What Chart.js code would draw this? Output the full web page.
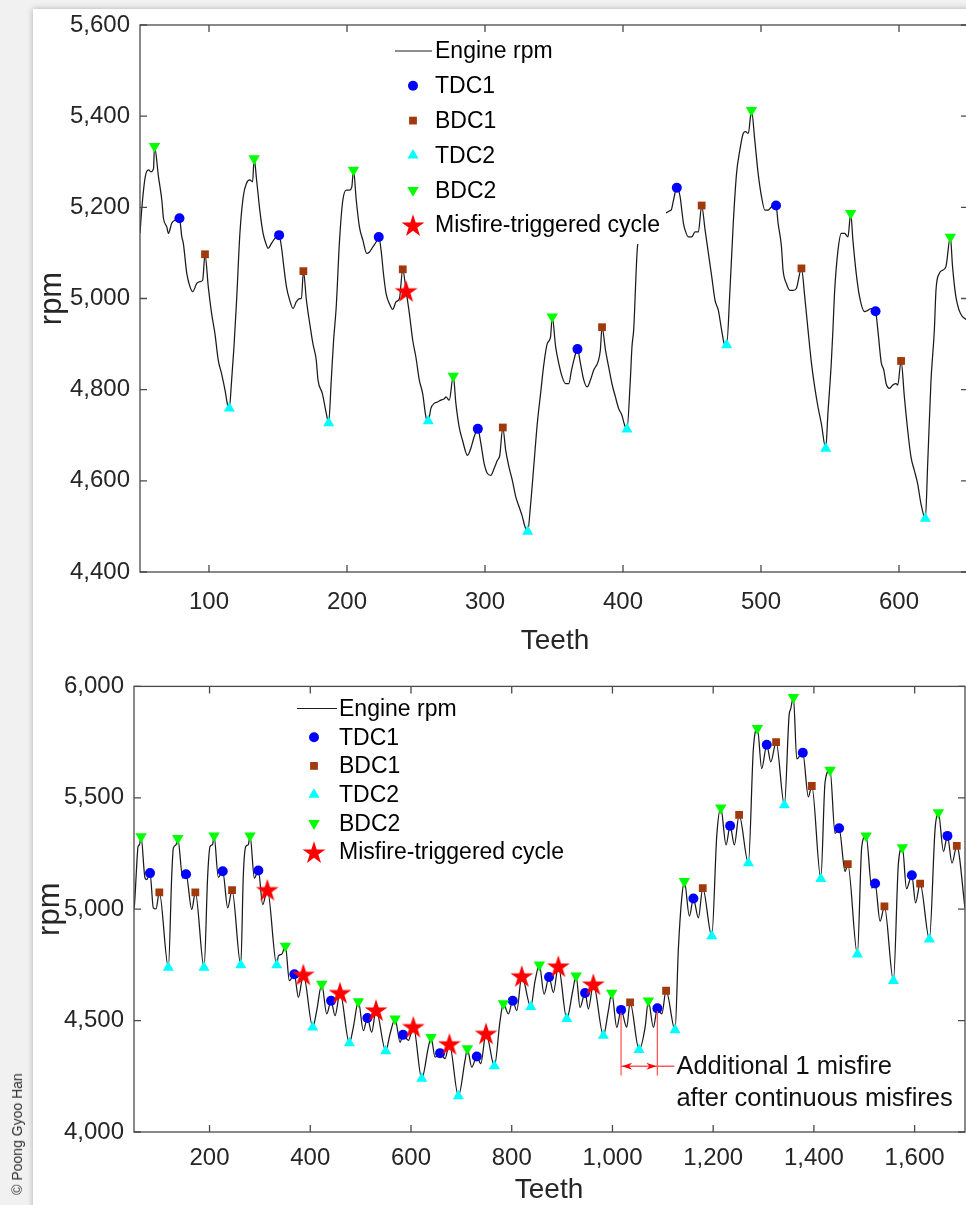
<!DOCTYPE html>
<html>
<head>
<meta charset="utf-8">
<script src="https://cdn.jsdelivr.net/npm/chart.js@4.4.1/dist/chart.umd.min.js"></script>
<style>
  html, body { margin: 0; padding: 0; width: 966px; height: 1205px; overflow: hidden; background: #f1f1f1; }
  #sheet { position: absolute; left: 33px; top: 9px; width: 980px; height: 1230px; background: #fff;
           box-shadow: 0 0 6px rgba(0,0,0,0.28); }
  canvas { position: absolute; left: 0; }
  #c1 { top: 0; }
  #c2 { top: 662px; }
  #credit { position: absolute; left: 17px; top: 1134px; transform: translate(-50%, -50%) rotate(-90deg);
            font: 14px "Liberation Sans", Arial, sans-serif; color: #333; white-space: nowrap; }
</style>
</head>
<body>
<div id="sheet"></div>
<canvas id="c1" width="980" height="660" style="width:980px;height:660px"></canvas>
<canvas id="c2" width="980" height="543" style="width:980px;height:543px"></canvas>
<div id="credit">© Poong Gyoo Han</div>
<script>
// ---------- upper panel: single misfire ----------
const topXTicks = [100, 200, 300, 400, 500, 600];
const topYTicks = [4400, 4600, 4800, 5000, 5200, 5400, 5600];
// [teeth, rpm]
const topEngine = [
  [50,5143],[51.4,5201],[53.8,5267],[56.2,5282],[57.9,5278],[59.8,5285],[60.5,5334],[63.4,5267],[65.8,5216],
  [67,5176],[69.4,5157],[70.6,5143],[73,5165],[75.4,5172],[78.6,5176],[80.3,5135],[81.4,5121],[83.9,5055],
  [86.3,5025],[88.2,5015],[91.1,5033],[93.5,5037],[95.4,5040],[97.1,5097],[99.5,5025],[101.9,4967],[104.3,4923],
  [106.7,4865],[109.1,4835],[111.6,4799],[113.5,4766],[114.7,4759],[116.4,4821],[118.1,4894],[120,4996],
  [122.4,5143],[124.8,5223],[127.2,5253],[129.6,5260],[131.6,5256],[132.7,5307],[134.5,5260],[136.8,5194],
  [139.2,5143],[141.2,5121],[142.8,5110],[145.3,5121],[147.7,5132],[150.8,5139],[152.5,5113],[154.2,5070],
  [156.1,5026],[158.5,4996],[160.9,4978],[163.3,4993],[165.7,5000],[167,5000],[168.4,5060],[170.6,4996],
  [173,4945],[175.3,4901],[177.7,4865],[179,4821],[182.1,4792],[185,4748],[186.7,4727],[188.6,4821],
  [190.3,4909],[192.2,4982],[194.6,5128],[197,5216],[199.5,5238],[201.8,5238],[203.5,5245],[204.7,5282],
  [206.7,5216],[209,5157],[211.5,5128],[214.3,5099],[216.3,5102],[218.7,5113],[221.1,5124],[223,5135],
  [224.7,5106],[226.4,5055],[228.3,5011],[230.7,4989],[233.1,4976],[235.6,4993],[238,5000],[240.4,5064],
  [242.8,5017],[245.2,4967],[247.6,4909],[250,4870],[252.4,4821],[254.8,4792],[257.2,4740],[258.9,4731],
  [260.8,4759],[263.2,4770],[265.6,4773],[268.1,4777],[270.5,4780],[271.7,4784],[274.1,4777],[277,4830],
  [278.9,4770],[281.3,4718],[283.7,4689],[287.3,4656],[289.7,4671],[292.1,4696],[294.8,4714],[297,4682],
  [299.4,4638],[301.8,4616],[304.2,4612],[306.6,4627],[309,4645],[310.7,4656],[312.9,4717],[315,4667],
  [317.4,4630],[319.8,4601],[322.3,4565],[324.7,4543],[327.1,4521],[329,4499],[330.9,4489],[333.1,4550],
  [335.5,4638],[337.9,4726],[340.3,4792],[342.7,4857],[345.1,4901],[347.5,4916],[348.7,4960],[351.2,4894],
  [353.5,4857],[355.9,4828],[358.4,4813],[360.7,4813],[362.7,4843],[365,4872],[367,4889],[369.2,4857],
  [371.6,4821],[374,4806],[376.4,4821],[378.8,4843],[381.9,4861],[383.6,4887],[384.8,4937],[387.3,4887],
  [389.6,4850],[392,4813],[394.5,4784],[396.8,4759],[399.2,4744],[401.2,4722],[402.9,4713],[405.3,4821],
  [406.5,4894],[407.7,4930],[410.8,5121],[434.9,5194],[436.6,5216],[439,5243],[441.4,5223],[442.6,5194],
  [443.8,5165],[445,5150],[447.4,5135],[449.8,5135],[452.2,5146],[454.6,5146],[457,5204],[459.5,5150],
  [461.9,5099],[464.3,5048],[466.7,4996],[469.1,4974],[471.5,4930],[473.4,4901],[475.1,4898],[477.5,5018],
  [479.9,5165],[482.3,5275],[484.7,5326],[487.1,5362],[488.8,5366],[490.8,5362],[493.1,5413],[495.5,5347],
  [497.9,5275],[500.4,5223],[502.8,5194],[505.2,5194],[507.6,5201],[510.9,5204],[512.4,5165],[514.8,5114],
  [516,5062],[518.4,5033],[520.9,5018],[523.3,5018],[525.6,5022],[529.3,5066],[531.7,5004],[534.1,4930],
  [536.5,4860],[538.9,4806],[541.3,4762],[543.7,4726],[546.9,4671],[548.5,4748],[550.9,4857],[552.1,4930],
  [553.4,5018],[555.8,5106],[558.2,5143],[560.6,5143],[563,5135],[565,5187],[566.6,5128],[569,5055],
  [571.4,5004],[575,4971],[577.4,4974],[579.8,4978],[583,4972],[584.7,4930],[587.1,4860],[589,4843],
  [590.7,4813],[593.1,4803],[595.5,4810],[597.9,4813],[599.1,4810],[601.5,4863],[603.9,4784],[606.3,4711],
  [608.7,4652],[611.1,4623],[613.5,4594],[615.9,4550],[619.1,4517],[620.8,4638],[623.2,4821],[625.6,4930],
  [626.8,5018],[629.2,5055],[631.6,5062],[634,5070],[637.2,5135],[638.8,5070],[641.2,5004],[643.6,4974],
  [646,4960],[650,4952]
];
const topTdc1 = [[78.6,5176],[150.8,5139],[223,5135],[294.8,4714],[367,4889],[439,5243],[510.9,5204],[583,4972]];
const topBdc1 = [[97.1,5097],[168.4,5060],[240.4,5064],[312.9,4717],[384.8,4937],[457,5204],[529.3,5066],[601.5,4863]];
const topTdc2 = [[114.7,4759],[186.7,4727],[258.9,4731],[330.9,4489],[402.9,4713],[475.1,4898],[546.9,4671],[619.1,4517]];
const topBdc2 = [[60.5,5334],[132.7,5307],[204.7,5282],[277,4830],[348.7,4960],[493.1,5413],[565,5187],[637.2,5135]];
const topMisfire = [[242.8,5017]];

// ---------- lower panel: continuous misfires ----------
const botXTicks = [200, 400, 600, 800, 1000, 1200, 1400, 1600];
const botYTicks = [4000, 4500, 5000, 5500, 6000];
const botEngine = [
  [50,5000],[51,5021],[56.6,5244],[58,5281],[61,5290],[64,5326],[71.9,5140],[75.3,5133],[81.8,5162],[88.4,5006],
  [93.7,5001],[100.3,5076],[118.2,4738],[125,5155],[128.1,5274],[133.5,5289],[136.9,5318],[146.8,5140],
  [153.3,5157],[164.7,4999],[171.8,5076],[189.1,4738],[196.4,5155],[201,5281],[206,5290],[208.9,5330],
  [217.5,5143],[226.2,5170],[236.1,5006],[244.7,5086],[262,4749],[267.1,5155],[271.9,5281],[277,5290],
  [280.4,5330],[289,5140],[296.9,5174],[305.6,5021],[314.8,5088],[333.4,4749],[336.6,4790],[343.4,4798],
  [350.6,4835],[358.5,4679],[368.4,4708],[376.4,4604],[386.3,4708],[404.9,4470],[412.8,4545],[422.8,4664],
  [432.7,4530],[441.3,4589],[449.2,4522],[459.1,4626],[477.6,4399],[485.5,4470],[495.5,4586],[505.4,4455],
  [513.4,4512],[522,4448],[530.6,4548],[549.9,4363],[558.4,4440],[568.4,4508],[578.3,4403],[584.2,4436],
  [594.8,4411],[604.7,4473],[621.3,4240],[634.5,4381],[639.8,4425],[647.8,4336],[657.7,4354],[667.6,4329],
  [676.2,4396],[694.1,4161],[707.3,4321],[711.9,4374],[720.6,4291],[730.6,4339],[738.5,4307],[749,4443],
  [765.6,4296],[776.9,4500],[783.4,4577],[793.3,4530],[802,4589],[810,4545],[820,4701],[837.8,4562],
  [846.4,4679],[854.9,4750],[864.2,4619],[874.1,4696],[882.7,4626],[892.6,4745],[909.3,4508],[921.2,4634],
  [927.8,4701],[935.7,4559],[945.6,4624],[952.2,4552],[962.1,4664],[982,4433],[991.9,4545],[998.6,4624],
  [1008.6,4470],[1017.1,4548],[1028.4,4470],[1035,4582],[1052.9,4369],[1064.8,4470],[1071.3,4589],
  [1081.3,4470],[1089.2,4555],[1098,4530],[1106.5,4634],[1124.3,4458],[1131,4827],[1137.6,5050],
  [1142.8,5125],[1152.8,4969],[1160.7,5048],[1170.6,4961],[1179.3,5095],[1197.2,4879],[1207.2,5333],
  [1215.1,5455],[1225.6,5289],[1233.6,5374],[1242.1,5289],[1251.5,5423],[1269.9,5207],[1279.8,5720],
  [1287.8,5812],[1296.4,5631],[1306.4,5738],[1314.4,5661],[1324.9,5750],[1341.4,5467],[1350.7,5869],
  [1354,5900],[1359.3,5951],[1366,5675],[1377.9,5702],[1389,5504],[1395.8,5553],[1413.7,5137],[1422.2,5571],
  [1432.1,5624],[1442,5340],[1450,5363],[1461.9,5170],[1467.3,5202],[1486.3,4798],[1495,5281],[1503.6,5330],
  [1515,5095],[1521.5,5115],[1531.4,4946],[1540,5013],[1557.9,4679],[1567.8,5207],[1575.7,5277],
  [1583.9,5092],[1594.4,5152],[1601.9,5028],[1610.9,5115],[1629.3,4865],[1640.7,5363],[1647.2,5434],
  [1657.3,5259],[1665.1,5329],[1674.2,5207],[1683.7,5284],[1700,5006]
];
const botTdc1 = [[81.8,5162],[153.3,5157],[226.2,5170],[296.9,5174],[368.4,4708],[441.3,4589],[513.4,4512],
  [584.2,4436],[657.7,4354],[730.6,4339],[802,4589],[874.1,4696],[945.6,4624],[1017.1,4548],[1089.2,4555],
  [1160.7,5048],[1233.6,5374],[1306.4,5738],[1377.9,5702],[1450,5363],[1521.5,5115],[1594.4,5152],[1665.1,5329]];
const botBdc1 = [[100.3,5076],[171.8,5076],[244.7,5086],[1035,4582],[1106.5,4634],[1179.3,5095],[1251.5,5423],
  [1324.9,5750],[1395.8,5553],[1467.3,5202],[1540,5013],[1610.9,5115],[1683.7,5284]];
const botTdc2 = [[118.2,4738],[189.1,4738],[262,4749],[333.4,4749],[404.9,4470],[477.6,4399],[549.9,4363],
  [621.3,4240],[694.1,4161],[765.6,4296],[837.8,4562],[909.3,4508],[982,4433],[1052.9,4369],[1124.3,4458],
  [1197.2,4879],[1269.9,5207],[1341.4,5467],[1413.7,5137],[1486.3,4798],[1557.9,4679],[1629.3,4865]];
const botBdc2 = [[64,5326],[136.9,5318],[208.9,5330],[280.4,5330],[350.6,4835],[422.8,4664],[495.5,4586],
  [568.4,4508],[639.8,4425],[711.9,4374],[783.4,4577],[854.9,4750],[927.8,4701],[998.6,4624],[1071.3,4589],
  [1142.8,5125],[1215.1,5455],[1287.8,5812],[1359.3,5951],[1432.1,5624],[1503.6,5330],[1575.7,5277],[1647.2,5434]];
const botMisfire = [[314.8,5088],[386.3,4708],[459.1,4626],[530.6,4548],[604.7,4473],[676.2,4396],[749,4443],
  [820,4701],[892.6,4745],[962.1,4664]];

// bracket between the two TDC1 events of the extra misfire
const extraMisfireSpan = [1017.1, 1089.2];
const extraMisfireNote = ['Additional 1 misfire', 'after continuous misfires'];

const legendLabels = ['Engine rpm', 'TDC1', 'BDC1', 'TDC2', 'BDC2', 'Misfire-triggered cycle'];

// ---------- styling ----------
const FONT = '"Liberation Sans", Arial, Helvetica, sans-serif';
const AXIS_COLOR = '#4a4a4a';
const TEXT_COLOR = '#262626';

function makeStar(outer) {
  const inner = outer * 0.382;
  const size = Math.ceil(outer * 2 + 2);
  const c = document.createElement('canvas');
  c.width = size; c.height = size;
  const g = c.getContext('2d');
  const cx = size / 2, cy = size / 2 + outer * 0.1;
  g.beginPath();
  for (let i = 0; i < 10; i++) {
    const r = i % 2 === 0 ? outer : inner;
    const a = -Math.PI / 2 + i * Math.PI / 5;
    const px = cx + r * Math.cos(a), py = cy + r * Math.sin(a);
    if (i === 0) g.moveTo(px, py); else g.lineTo(px, py);
  }
  g.closePath();
  g.fillStyle = '#ff0000';
  g.fill();
  return c;
}
const STAR = makeStar(12);

const markerStyles = {
  TDC1: { pointStyle: 'circle',   radius: 5.0, rotation: 0,   color: '#0000ff' },
  BDC1: { pointStyle: 'rect',     radius: 5.5, rotation: 0,   color: '#a0390c' },
  TDC2: { pointStyle: 'triangle', radius: 6.4, rotation: 0,   color: '#00ffff' },
  BDC2: { pointStyle: 'triangle', radius: 6.6, rotation: 180, color: '#00ff00' },
  Misfire: { pointStyle: STAR,    radius: 12,  rotation: 0,   color: '#ff0000' }
};

function pts(arr) { return arr.map(p => ({ x: p[0], y: p[1] })); }

function markerSet(label, arr, key) {
  const s = markerStyles[key];
  return {
    type: 'scatter', label, data: pts(arr), showLine: false, order: 0,
    pointStyle: s.pointStyle, pointRadius: s.radius, pointRotation: s.rotation,
    pointBackgroundColor: s.color, pointBorderColor: s.color, pointBorderWidth: 0,
    pointHoverRadius: s.radius
  };
}

function drawLegendMarker(ctx, key, x, y) {
  const s = markerStyles[key];
  ctx.save();
  ctx.fillStyle = s.color;
  ctx.beginPath();
  const r = s.radius;
  if (s.pointStyle === 'circle') {
    ctx.arc(x, y, r, 0, Math.PI * 2);
    ctx.fill();
  } else if (s.pointStyle === 'rect') {
    const h = r / Math.SQRT2;
    ctx.fillRect(x - h, y - h, 2 * h, 2 * h);
  } else if (s.pointStyle === 'triangle') {
    const dir = s.rotation === 180 ? -1 : 1;
    ctx.moveTo(x, y - dir * r);
    ctx.lineTo(x + r * Math.sin(2 * Math.PI / 3), y + dir * r / 2);
    ctx.lineTo(x - r * Math.sin(2 * Math.PI / 3), y + dir * r / 2);
    ctx.closePath();
    ctx.fill();
  } else {
    ctx.drawImage(s.pointStyle, x - s.pointStyle.width / 2, y - s.pointStyle.height / 2);
  }
  ctx.restore();
}

function legendPlugin(cfg) {
  const keys = [null, 'TDC1', 'BDC1', 'TDC2', 'BDC2', 'Misfire'];
  return {
    id: 'insideLegend',
    afterDatasetsDraw(chart) {
      const ctx = chart.ctx;
      ctx.save();
      ctx.fillStyle = '#ffffff';
      ctx.fillRect(cfg.box[0], cfg.box[1], cfg.box[2], cfg.box[3]);
      ctx.font = cfg.size + 'px ' + FONT;
      ctx.textBaseline = 'middle';
      legendLabels.forEach((label, i) => {
        const y = cfg.y0 + i * cfg.dy;
        if (keys[i] === null) {
          ctx.strokeStyle = '#1e1e1e';
          ctx.lineWidth = 1.2;
          ctx.beginPath();
          ctx.moveTo(cfg.lx0, y); ctx.lineTo(cfg.lx1, y);
          ctx.stroke();
        } else {
          drawLegendMarker(ctx, keys[i], cfg.mx, y);
        }
        ctx.fillStyle = '#000';
        ctx.fillText(label, cfg.tx, y + 1);
      });
      ctx.restore();
    }
  };
}

function framePlugin(xTicks, yTicks, titles) {
  return {
    id: 'boxFrame',
    afterDraw(chart) {
      const { ctx, chartArea: a } = chart;
      const xs = chart.scales.x, ys = chart.scales.y;
      const tl = 7;
      ctx.save();
      ctx.strokeStyle = AXIS_COLOR;
      ctx.lineWidth = 1.3;
      ctx.strokeRect(a.left, a.top, a.right - a.left, a.bottom - a.top);
      ctx.beginPath();
      xTicks.forEach(v => {
        const px = xs.getPixelForValue(v);
        ctx.moveTo(px, a.bottom); ctx.lineTo(px, a.bottom - tl);
        ctx.moveTo(px, a.top); ctx.lineTo(px, a.top + tl);
      });
      yTicks.forEach(v => {
        const py = ys.getPixelForValue(v);
        ctx.moveTo(a.left, py); ctx.lineTo(a.left + tl, py);
        ctx.moveTo(a.right, py); ctx.lineTo(a.right - tl, py);
      });
      ctx.stroke();
      // axis titles
      ctx.fillStyle = TEXT_COLOR;
      ctx.textAlign = 'center';
      ctx.textBaseline = 'middle';
      ctx.font = titles.xSize + 'px ' + FONT;
      ctx.fillText('Teeth', titles.xTitleX, titles.xTitleY);
      ctx.font = titles.ySize + 'px ' + FONT;
      ctx.translate(titles.yTitleX, (a.top + a.bottom) / 2);
      ctx.rotate(-Math.PI / 2);
      ctx.fillText('rpm', 0, 0);
      ctx.restore();
    }
  };
}

function noteAnnotation() {
  return {
    id: 'extraMisfireNote',
    afterDatasetsDraw(chart) {
      const { ctx } = chart;
      const xs = chart.scales.x, ys = chart.scales.y;
      const xa = xs.getPixelForValue(extraMisfireSpan[0]);
      const xb = xs.getPixelForValue(extraMisfireSpan[1]);
      const ya = ys.getPixelForValue(botTdc1.find(p => p[0] === extraMisfireSpan[0])[1]);
      const yb = ys.getPixelForValue(botTdc1.find(p => p[0] === extraMisfireSpan[1])[1]);
      const yEnd = ys.getPixelForValue(4254);
      const yArrow = ys.getPixelForValue(4295);
      ctx.save();
      ctx.strokeStyle = '#ff5a5a';
      ctx.lineWidth = 1.3;
      ctx.beginPath();
      ctx.moveTo(xa, ya + 3); ctx.lineTo(xa, yEnd);
      ctx.moveTo(xb, yb + 3); ctx.lineTo(xb, yEnd);
      ctx.moveTo(xa, yArrow); ctx.lineTo(xb + 17, yArrow);
      ctx.stroke();
      ctx.fillStyle = '#ff0000';
      const head = (tipX, dir) => {
        ctx.beginPath();
        ctx.moveTo(tipX, yArrow);
        ctx.lineTo(tipX + dir * 10, yArrow - 3.5);
        ctx.lineTo(tipX + dir * 7, yArrow);
        ctx.lineTo(tipX + dir * 10, yArrow + 3.5);
        ctx.closePath();
        ctx.fill();
      };
      head(xa + 1, 1);
      head(xb - 1, -1);
      ctx.fillStyle = '#111';
      ctx.font = '25.5px ' + FONT;
      ctx.textAlign = 'left';
      ctx.textBaseline = 'alphabetic';
      ctx.fillText(extraMisfireNote[0], xb + 19, yArrow + 8);
      ctx.fillText(extraMisfireNote[1], xb + 19, yArrow + 40);
      ctx.restore();
    }
  };
}

function fmt(v) { return Number(v).toLocaleString('en-US'); }

function buildChart(id, cfg) {
  return new Chart(document.getElementById(id), {
    type: 'scatter',
    data: {
      datasets: [
        markerSet('Misfire-triggered cycle', cfg.misfire, 'Misfire'),
        markerSet('BDC2', cfg.bdc2, 'BDC2'),
        markerSet('TDC2', cfg.tdc2, 'TDC2'),
        markerSet('BDC1', cfg.bdc1, 'BDC1'),
        markerSet('TDC1', cfg.tdc1, 'TDC1'),
        {
          type: 'line', label: 'Engine rpm', data: pts(cfg.engine), order: 1,
          borderColor: '#1a1a1a', borderWidth: 1.25, pointRadius: 0, fill: false,
          cubicInterpolationMode: 'monotone', clip: 0
        }
      ]
    },
    options: {
      responsive: false,
      animation: false,
      devicePixelRatio: 1,
      events: [],
      layout: { padding: cfg.padding },
      plugins: { legend: { display: false }, tooltip: { enabled: false } },
      scales: {
        x: {
          type: 'linear', min: cfg.xMin, max: cfg.xMax,
          afterBuildTicks: s => { s.ticks = cfg.xTicks.map(v => ({ value: v })); },
          afterFit: s => { s.height = cfg.xAxisHeight; },
          grid: { display: false, drawTicks: false, tickLength: 0 },
          border: { display: false },
          ticks: { font: { family: FONT, size: 24 }, color: TEXT_COLOR, padding: cfg.xTickPad,
                   maxRotation: 0, autoSkip: false, callback: v => fmt(v) }
        },
        y: {
          type: 'linear', min: cfg.yMin, max: cfg.yMax,
          afterBuildTicks: s => { s.ticks = cfg.yTicks.map(v => ({ value: v })); },
          afterFit: s => { s.width = cfg.yAxisWidth; },
          grid: { display: false, drawTicks: false, tickLength: 0 },
          border: { display: false },
          ticks: { font: { family: FONT, size: 24 }, color: TEXT_COLOR, padding: 10,
                   autoSkip: false, callback: v => fmt(v) }
        }
      }
    },
    plugins: cfg.plugins
  });
}

buildChart('c1', {
  engine: topEngine, tdc1: topTdc1, bdc1: topBdc1, tdc2: topTdc2, bdc2: topBdc2, misfire: topMisfire,
  xMin: 50, xMax: 650, yMin: 4400, yMax: 5600, xTicks: topXTicks, yTicks: topYTicks,
  padding: { left: 0, top: 25, right: 9, bottom: 0 }, xAxisHeight: 88, yAxisWidth: 140, xTickPad: 16,
  plugins: [
    legendPlugin({ box: [390, 30, 276, 214], y0: 51, dy: 34.8, lx0: 395, lx1: 432, mx: 413, tx: 435, size: 23 }),
    framePlugin(topXTicks, topYTicks, { xSize: 28, ySize: 31, xTitleX: 555, xTitleY: 641, yTitleX: 52 })
  ]
});

buildChart('c2', {
  engine: botEngine, tdc1: botTdc1, bdc1: botBdc1, tdc2: botTdc2, bdc2: botBdc2, misfire: botMisfire,
  xMin: 50, xMax: 1700, yMin: 4000, yMax: 6000, xTicks: botXTicks, yTicks: botYTicks,
  padding: { left: 0, top: 22, right: 15, bottom: 0 }, xAxisHeight: 73, yAxisWidth: 134, xTickPad: 12,
  plugins: [
    legendPlugin({ box: [290, 30, 282, 180], y0: 46.5, dy: 28.7, lx0: 297, lx1: 337, mx: 314, tx: 339, size: 23 }),
    noteAnnotation(),
    framePlugin(botXTicks, botYTicks, { xSize: 28, ySize: 31, xTitleX: 549, xTitleY: 528, yTitleX: 50 })
  ]
});
</script>
</body>
</html>
